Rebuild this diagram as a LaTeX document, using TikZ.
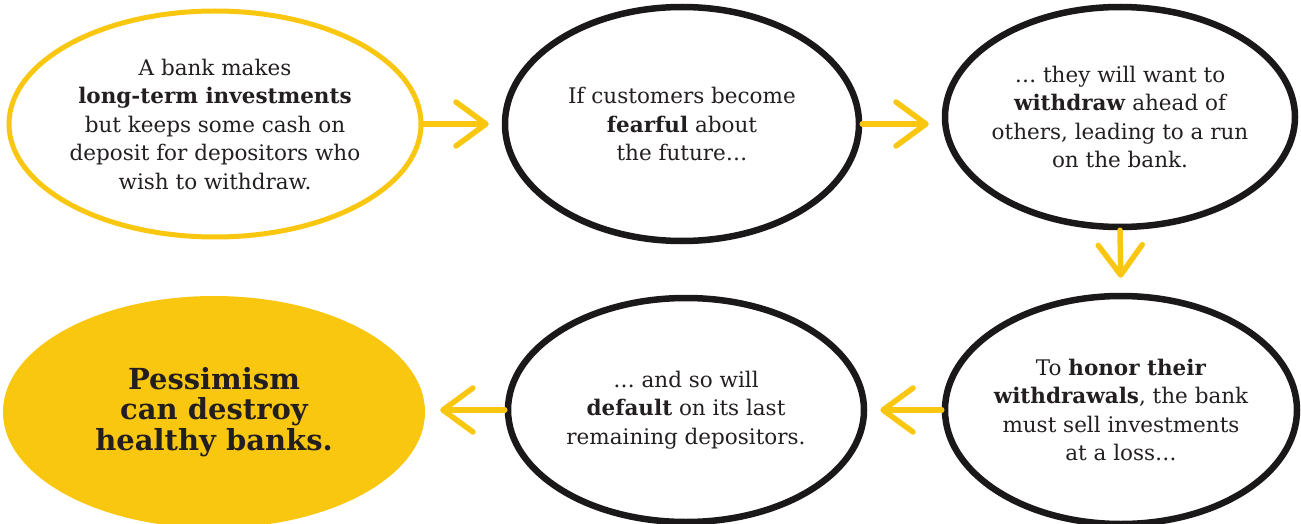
\documentclass[tikz,border=0pt]{standalone}
\usepackage{fontspec}
\setmainfont{DejaVu Serif}
\usepackage{tikz}
\usetikzlibrary{arrows.meta, calc, shapes.geometric}
\definecolor{bankyellow}{RGB}{250,199,16}
\definecolor{inkblack}{RGB}{26,24,24}
\definecolor{textgray}{RGB}{35,31,32}

\begin{document}
\begin{tikzpicture}[x=1pt, y=-1pt,
  bubble/.style={ellipse, draw=inkblack, line width=6.5pt, inner sep=0pt},
  txt/.style={align=center, text=textgray, font=\fontsize{21.5}{28.5}\selectfont},
  flow/.style={draw=bankyellow, line width=5.5pt, line cap=round, -{Straight Barb[length=30pt, width=44pt, round]}, shorten >=13pt}]
\useasboundingbox (0,0) rectangle (1301,524);
% top row
\node[bubble, draw=bankyellow, line width=5pt, minimum width=412pt, minimum height=226pt] (e1) at (215,124) {};
\node[bubble, minimum width=354pt, minimum height=234pt] (e2) at (682,124) {};
\node[bubble, minimum width=350pt, minimum height=220pt] (e3) at (1120,117) {};
% bottom row
\node[bubble, minimum width=352pt, minimum height=228pt] (e6) at (1121,410) {};
\node[bubble, minimum width=356pt, minimum height=224pt] (e5) at (686,410) {};
\node[ellipse, fill=bankyellow, inner sep=0pt, minimum width=422pt, minimum height=232pt] (e4) at (214,412) {};
% texts
\node[txt] (t1) at (e1) {A bank makes\\\textbf{long-term investments}\\but keeps some cash on\\deposit for depositors who\\wish to withdraw.};
\node[txt] (t2) at (e2) {If customers become\\\textbf{fearful} about\\the future\dots};
\node[txt] (t3) at (e3) {\dots\ they will want to\\\textbf{withdraw} ahead of\\others, leading to a run\\on the bank.};
\node[txt] (t6) at (e6) {To \textbf{honor their}\\\textbf{withdrawals}, the bank\\must sell investments\\at a loss\dots};
\node[txt] (t5) at (e5) {\dots\ and so will\\\textbf{default} on its last\\remaining depositors.};
\node[txt, font=\fontsize{29}{30.5}\selectfont\bfseries] (t4) at (e4) {Pessimism\\can destroy\\healthy banks.};
% arrows
\draw[flow] (e1.east) -- (e2.west);
\draw[flow] (e2.east) -- (e2.east -| e3.west);
\draw[flow, shorten >=15pt] (e3.south) -- (e6.north);
\draw[flow] (e6.west) -- (e5.east);
\draw[flow, shorten >=15pt] (e5.west) -- (e5.west -| e4.east);
\end{tikzpicture}
\end{document}
